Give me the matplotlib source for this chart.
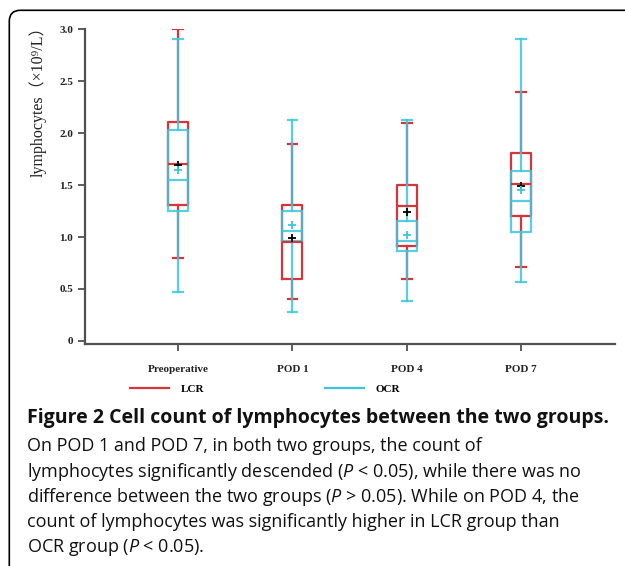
import matplotlib
matplotlib.use("Agg")
import matplotlib.pyplot as plt
from matplotlib.patches import FancyBboxPatch
from matplotlib.lines import Line2D

plt.rcParams['mathtext.fontset'] = 'custom'
plt.rcParams['mathtext.rm'] = 'Open Sans'
plt.rcParams['mathtext.it'] = 'Open Sans:italic'

categories = ["Preoperative", "POD 1", "POD 4", "POD 7"]
groups = ["LCR", "OCR"]

lcr_whislo = [0.80, 0.40, 0.60, 0.71]
lcr_q1 = [1.31, 0.60, 0.91, 1.20]
lcr_med = [1.70, 0.95, 1.30, 1.51]
lcr_q3 = [2.11, 1.31, 1.50, 1.81]
lcr_whishi = [3.00, 1.90, 2.10, 2.40]
lcr_mean = [1.69, 0.99, 1.245, 1.49]

ocr_whislo = [0.47, 0.28, 0.38, 0.57]
ocr_q1 = [1.255, 0.965, 0.87, 1.05]
ocr_med = [1.545, 1.06, 0.96, 1.35]
ocr_q3 = [2.03, 1.255, 1.15, 1.64]
ocr_whishi = [2.91, 2.13, 2.13, 2.91]
ocr_mean = [1.65, 1.12, 1.02, 1.455]

yticks = [0, 0.5, 1.0, 1.5, 2.0, 2.5, 3.0]
ytick_labels = ["0", "0.5", "1.0", "1.5", "2.0", "2.5", "3.0"]

RED = "#d8343c"
CYAN = "#3cc6dc"
TICKFONT = dict(family="Liberation Serif", weight="bold", size=8)

W, H = 625, 566
fig = plt.figure(figsize=(W / 100, H / 100), dpi=100)
ax = fig.add_axes([85.3 / W, 1 - 344 / H, (615 - 85.3) / W, (344 - 29.3) / H])


def stats(lo, q1, med, q3, hi, mean):
    return [dict(whislo=a, q1=b, med=c, q3=d, whishi=e, mean=f, fliers=[])
            for a, b, c, d, e, f in zip(lo, q1, med, q3, hi, mean)]


pos = list(range(1, len(categories) + 1))
for st, col, mcol, alpha in [
    (stats(lcr_whislo, lcr_q1, lcr_med, lcr_q3, lcr_whishi, lcr_mean), RED, "black", 1.0),
    (stats(ocr_whislo, ocr_q1, ocr_med, ocr_q3, ocr_whishi, ocr_mean), CYAN, CYAN, 0.85),
]:
    lp = dict(color=col, linewidth=1.6, alpha=alpha)
    ax.bxp(st, positions=pos, widths=0.175, capwidths=0.085, showmeans=True,
           boxprops=lp, whiskerprops=lp, capprops=lp, medianprops=lp,
           meanprops=dict(marker="+", markeredgecolor=mcol, markersize=6,
                          markeredgewidth=1.3, linestyle="none"),
           manage_ticks=False)

ax.set_xlim(0.19, 4.82)
ax.set_ylim(-0.03, 3.0)
ax.set_xticks(pos)
ax.set_xticklabels(categories)
ax.set_yticks(yticks)
ax.set_yticklabels(ytick_labels)
for s in ["top", "right"]:
    ax.spines[s].set_visible(False)
for s in ["left", "bottom"]:
    ax.spines[s].set_color("#505050")
    ax.spines[s].set_linewidth(1.6)
ax.tick_params(axis="both", colors="#505050", width=1.3, length=5, direction="out",
               labelcolor="#222222")
ax.tick_params(axis="x", pad=10)
ax.tick_params(axis="y", pad=3.6)
for lbl in ax.get_xticklabels() + ax.get_yticklabels():
    lbl.set_fontfamily(TICKFONT["family"])
    lbl.set_fontweight(TICKFONT["weight"])
    lbl.set_fontsize(TICKFONT["size"])

fig.text(38 / W, 1 - 98 / H, "lymphocytes（×10⁹/L）", rotation=90, ha="center", va="center",
         fontsize=11.5, family=["Liberation Serif", "DejaVu Serif", "Noto Sans CJK SC"],
         color="#222222")

handles = [Line2D([], [], color=RED, lw=1.6), Line2D([], [], color=CYAN, lw=1.6)]
fig.legend(handles, groups, loc="center left", bbox_to_anchor=(130 / W, 1 - 389 / H),
           ncol=2, frameon=False, handlelength=3.5, handletextpad=1.1,
           columnspacing=10.8, borderaxespad=0, borderpad=0, prop=TICKFONT)

# figure frame
fig.add_artist(FancyBboxPatch((9.3, -60), 700, (H - 10.3) + 60, transform=None,
                              boxstyle="round,pad=0,rounding_size=11",
                              facecolor="none", edgecolor="black", linewidth=1.2))

caption = [
    ("Figure 2 Cell count of lymphocytes between the two groups.", "bold", 14.0),
    ("On POD 1 and POD 7, in both two groups, the count of", "normal", 13.0),
    ("lymphocytes significantly descended ($P$ < 0.05), while there was no", "normal", 13.0),
    ("difference between the two groups ($P$ > 0.05). While on POD 4, the", "normal", 13.0),
    ("count of lymphocytes was significantly higher in LCR group than", "normal", 13.0),
    ("OCR group ($P$ < 0.05).", "normal", 13.0),
]
ys = [418, 446, 472, 497, 522, 547]
for (t, w, fs), y in zip(caption, ys):
    fig.text(27 / W, 1 - y / H, t, ha="left", va="center", fontsize=fs,
             family="Open Sans", weight=w, color="#111111")

fig.savefig("out.png", dpi=100)
